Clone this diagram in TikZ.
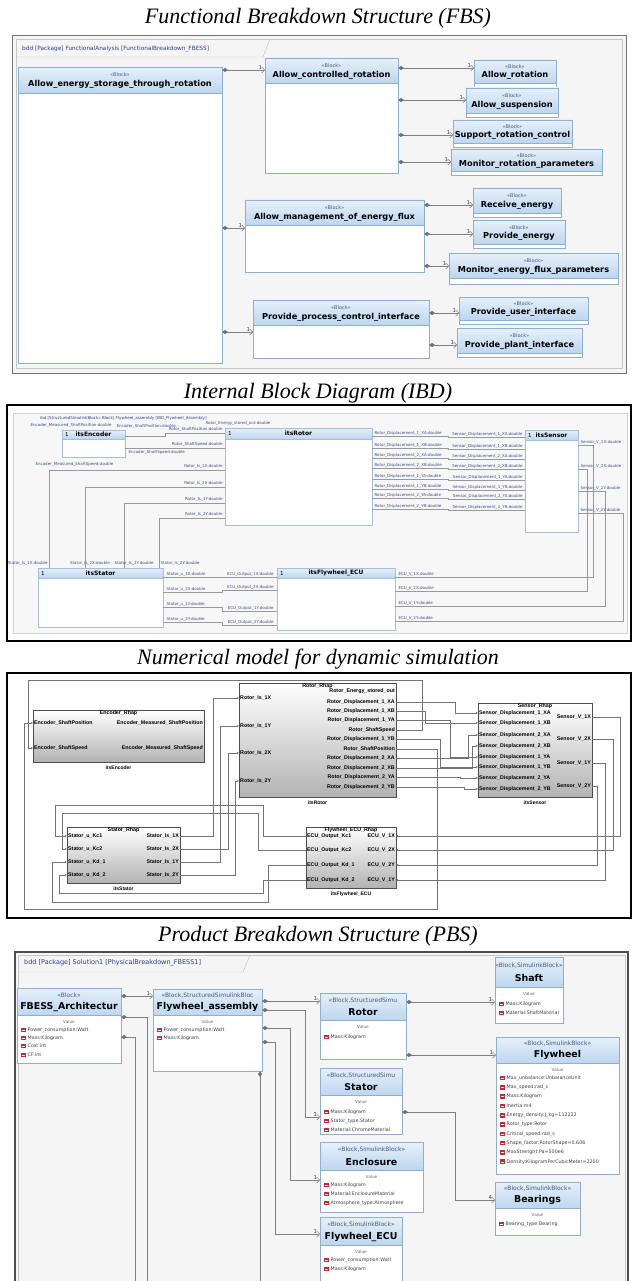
\documentclass[tikz,border=0pt]{standalone}
\usepackage{fontspec}
\setmainfont{Liberation Serif}
\newfontfamily\dv{DejaVu Sans}
\newfontfamily\ls{Liberation Sans}
\usetikzlibrary{arrows.meta,calc}
\definecolor{hdrt}{HTML}{E6F0FA}
\definecolor{hdrbot}{HTML}{BDD6EF}
\definecolor{hdrb}{HTML}{8FAFD2}
\definecolor{frm}{HTML}{F5F5F5}
\definecolor{tabc}{HTML}{2E3F86}
\definecolor{sterc}{HTML}{46587E}
\definecolor{lblc}{HTML}{3C4F8C}
\definecolor{iconred}{HTML}{C8283A}

\newcounter{lb}
\newcommand\mklbl[3][]{\stepcounter{lb}\node[#1] (lb\arabic{lb}) at (#2) {#3};}
\newcommand\mkfbs[7]{%
 \node[bbody, anchor=north west, minimum width=#4pt, minimum height=#5pt] (#1) at (#2,#3) {};
 \node[bhead, anchor=north west, minimum width=#4pt, minimum height=#6pt] (#1h) at (#2,#3) {};
 \node[ster] (#1s) at ($(#1h.north)!0.3!(#1h.south)$) {«Block»};
 \node[bname] (#1n) at ($(#1h.north)!0.68!(#1h.south)$) {#7};}
\newcommand\mkpbs[8]{%
 \node[bbody, anchor=north west, minimum width=#4pt, minimum height=#5pt] (#1) at (#2,#3) {};
 \node[bhead, anchor=north west, minimum width=#4pt, minimum height=#6pt] (#1h) at (#2,#3) {};
 \node[pster] (#1s) at ($(#1h.north)!0.27!(#1h.south)$) {#7};
 \node[pname] (#1n) at ($(#1h.north)!0.7!(#1h.south)$) {#8};
 \node[pval] (#1v) at ($(#1h.south)+(0,7)$) {Value};}
\newcommand\mkibd[7]{%
 \node[ibody, anchor=north west, minimum width=#4pt, minimum height=#5pt] (#1) at (#2,#3) {};
 \node[ihead, anchor=north west, minimum width=#4pt, minimum height=#6pt] (#1h) at (#2,#3) {};
 \node[iname] (#1n) at (#1h.center) {#7};
 \node[imult, anchor=west] (#1m) at ($(#1h.west)+(3,0)$) {1};}
\newcommand\mksim[7]{%
 \node[sblk, anchor=north west, minimum width=#4pt, minimum height=#5pt] (#1) at (#2,#3) {};
 \node[sp] (#1t) at ($(#1.north)+(0,3.5)$) {#6};
 \node[sn] (#1l) at ($(#1.south)+(0,6)$) {#7};}
\newcommand\mkattr[3]{%
 \fill[iconred] (#1,#2-2.3) rectangle (#1+4.5,#2+2.3);
 \draw[white, line width=0.35pt] (#1+0.6,#2) -- (#1+3.9,#2);
 \mklbl[attr]{#1+6.5,#2}{#3}}

\tikzset{
 ttl/.style={font=\fontsize{22}{26}\selectfont\itshape, inner sep=0pt},
 bbody/.style={draw=hdrb, line width=0.5pt, fill=white, inner sep=0pt, outer sep=0pt},
 bhead/.style={draw=hdrb, line width=0.5pt, top color=hdrt, bottom color=hdrbot, inner sep=0pt, outer sep=0pt},
 ster/.style={font=\dv\fontsize{5}{5}\selectfont, text=sterc, inner sep=0pt},
 bname/.style={font=\dv\bfseries\fontsize{8.2}{9}\selectfont, inner sep=0pt},
 pster/.style={font=\dv\fontsize{6}{6}\selectfont, text=sterc, inner sep=0pt},
 pname/.style={font=\dv\bfseries\fontsize{9.4}{10}\selectfont, inner sep=0pt},
 pval/.style={font=\dv\fontsize{4.2}{4.5}\selectfont, text=black!60, inner sep=0pt},
 attr/.style={font=\dv\fontsize{4.8}{5}\selectfont, text=black!75, inner sep=0pt, anchor=west},
 tab/.style={font=\dv\fontsize{5.8}{6}\selectfont, text=tabc, inner sep=0pt},
 ptab/.style={font=\dv\fontsize{6.5}{7}\selectfont, text=tabc, inner sep=0pt},
 comp/.style={draw=black!50, line width=0.6pt, {Diamond[length=6pt,width=4pt,color=black!55]}-{Straight Barb[length=3pt,width=6pt,line width=0.5pt]}},
 compn/.style={draw=black!50, line width=0.6pt, {Diamond[length=6pt,width=4pt,color=black!55]}-},
 mult/.style={font=\dv\fontsize{5.5}{6}\selectfont, text=black!75, inner sep=0pt, pos=1, anchor=south east, xshift=-2.5pt, yshift=0.5pt},
 ibody/.style={draw=hdrb!80, line width=0.4pt, fill=white, inner sep=0pt, outer sep=0pt},
 ihead/.style={draw=hdrb!80, line width=0.4pt, top color=hdrt, bottom color=hdrbot, inner sep=0pt, outer sep=0pt},
 iname/.style={font=\dv\bfseries\fontsize{6}{6}\selectfont, inner sep=0pt},
 imult/.style={font=\dv\fontsize{5.5}{6}\selectfont, inner sep=0pt},
 ihd/.style={font=\dv\fontsize{4}{4.5}\selectfont, text=tabc, inner sep=0pt},
 il/.style={font=\dv\fontsize{4}{4.5}\selectfont, text=lblc, inner sep=0.3pt},
 iw/.style={draw=black!40, line width=0.4pt},
 sblk/.style={draw=black!70, line width=0.6pt, top color=white, bottom color=black!30, inner sep=0pt, outer sep=0pt},
 sp/.style={font=\ls\bfseries\fontsize{5.3}{5.5}\selectfont, inner sep=1pt},
 sn/.style={font=\ls\bfseries\fontsize{5}{5.5}\selectfont, inner sep=0pt},
 sl/.style={draw=black!55, line width=0.45pt, -{Triangle[length=2.2pt,width=2pt]}},
}

\begin{document}
\begin{tikzpicture}[x=1pt,y=-1pt]
\useasboundingbox (0,0) rectangle (637,1281);
\fill[white] (0,0) rectangle (637,1281);
\clip (0,0) rectangle (637,1281);

% ---------------- titles
\node[ttl] (t1) at (318,18) {Functional Breakdown Structure (FBS)};
\node[ttl] (t2) at (318,393) {Internal Block Diagram (IBD)};
\node[ttl] (t3) at (318,659) {Numerical model for dynamic simulation};
\node[ttl] (t4) at (318,936) {Product Breakdown Structure (PBS)};

% ================= FBS
\draw[black!55, line width=0.9pt, fill=frm] (12,35) rectangle (626,373);
\draw[black!22, line width=0.4pt] (16,39) rectangle (622,368);
\draw[black!25, line width=0.4pt] (16,57) -- (263,57) -- (270,39);
\mklbl[tab, anchor=west]{22,48.5}{bdd [Package] FunctionalAnalysis [FunctionalBreakdown\_FBESS]}

\mkfbs{aes}{18}{67}{204}{296}{26}{Allow\_energy\_storage\_through\_rotation}
\mkfbs{acr}{265}{58}{133}{115}{25}{Allow\_controlled\_rotation}
\mkfbs{ar}{474}{60}{82}{27}{23}{Allow\_rotation}
\mkfbs{as}{466}{88}{92}{29}{25}{Allow\_suspension}
\mkfbs{src}{453}{120}{119}{27}{23}{Support\_rotation\_control}
\mkfbs{mrp}{451}{149}{151}{26}{22}{Monitor\_rotation\_parameters}
\mkfbs{amef}{245}{200}{179}{72}{25}{Allow\_management\_of\_energy\_flux}
\mkfbs{re}{473}{188}{88}{29}{25}{Receive\_energy}
\mkfbs{pe}{473}{220}{92}{28}{24}{Provide\_energy}
\mkfbs{mefp}{449}{253}{169}{31}{25}{Monitor\_energy\_flux\_parameters}
\mkfbs{ppci}{253}{300}{176}{58}{25}{Provide\_process\_control\_interface}
\mkfbs{pui}{459}{297}{129}{27}{23}{Provide\_user\_interface}
\mkfbs{ppi}{457}{328}{125}{29}{25}{Provide\_plant\_interface}

\draw[comp] (aes.east |- 0,70) -- (acr.west |- 0,70) node[mult] (fm1) {1};
\draw[comp] (acr.east |- 0,68) -- (ar.west |- 0,68) node[mult] (fm2) {1};
\draw[comp] (acr.east |- 0,100) -- (as.west |- 0,100) node[mult] (fm3) {1};
\draw[comp] (acr.east |- 0,135) -- (src.west |- 0,135) node[mult] (fm4) {1};
\draw[comp] (acr.east |- 0,162) -- (mrp.west |- 0,162) node[mult] (fm5) {1};
\draw[comp] (aes.east |- 0,228) -- (amef.west |- 0,228) node[mult] (fm6) {1};
\draw[comp] (amef.east |- 0,205) -- (re.west |- 0,205) node[mult] (fm7) {1};
\draw[comp] (amef.east |- 0,234) -- (pe.west |- 0,234) node[mult] (fm8) {1};
\draw[comp] (amef.east |- 0,266) -- (mefp.west |- 0,266) node[mult] (fm9) {1};
\draw[comp] (aes.east |- 0,332) -- (ppci.west |- 0,332) node[mult] (fm10) {1};
\draw[comp] (ppci.east |- 0,313) -- (pui.west |- 0,313) node[mult] (fm11) {1};
\draw[comp] (ppci.east |- 0,345) -- (ppi.west |- 0,345) node[mult] (fm12) {1};

% ================= IBD
\draw[line width=1.3pt] (7,405) rectangle (631,641);
\draw[black!18, fill=black!3] (13,413) rectangle (627,633);
\mklbl[ihd, anchor=west]{40,418}{ibd [StructuredSimulinkBlock» Block] Flywheel\_assembly [IBD\_Flywheel\_Assembly]}

\mkibd{enc}{62}{430}{63}{27}{9}{itsEncoder}
\mkibd{rot}{225}{428}{147}{97}{11}{itsRotor}
\mkibd{sen}{525}{430}{53}{102}{10}{itsSensor}
\mkibd{sta}{38}{568}{125}{59}{10}{itsStator}
\mkibd{ecu}{277}{568}{118}{62}{10}{itsFlywheel\_ECU}

\draw[iw] (enc.east |- 0,436) -- (165,436) -- (165,433) -- (rot.west |- 0,433);
\draw[iw] (enc.east |- 0,448) -- (rot.west |- 0,448);
\draw[iw] (sta.north -| 49,0) -- (49,470) -- (rot.west |- 0,470);
\draw[iw] (sta.north -| 85,0) -- (85,487) -- (rot.west |- 0,487);
\draw[iw] (sta.north -| 124,0) -- (124,503) -- (rot.west |- 0,503);
\draw[iw] (sta.north -| 159,0) -- (159,518) -- (rot.west |- 0,518);
\draw[iw] (sta.east |- 0,577) -- (ecu.west |- 0,577);
\draw[iw] (sta.east |- 0,592) -- (222,592) -- (222,590) -- (ecu.west |- 0,590);
\draw[iw] (sta.east |- 0,607) -- (222,607) -- (222,611) -- (ecu.west |- 0,611);
\draw[iw] (sta.east |- 0,622) -- (222,622) -- (222,625) -- (ecu.west |- 0,625);
\draw[iw] (sen.east |- 0,445) -- (593,445) -- (593,577) -- (ecu.east |- 0,577);
\draw[iw] (sen.east |- 0,469) -- (587,469) -- (587,591) -- (ecu.east |- 0,591);
\draw[iw] (sen.east |- 0,491) -- (605,491) -- (605,606) -- (ecu.east |- 0,606);
\draw[iw] (sen.east |- 0,513) -- (623,513) -- (623,621) -- (ecu.east |- 0,621);
\foreach \yy/\nm [count=\i] in {436/1\_XA, 448/1\_XB, 458/2\_XA, 468/2\_XB, 479/1\_YA, 489/1\_YB, 498/2\_YA, 509/2\_YB} {
  \draw[iw] (rot.east |- 0,\yy) -- (448,\yy) -- (448,\yy+1.5) -- (sen.west |- 0,\yy+1.5);
  \node[il, anchor=south west] (rl\i) at (374,\yy-0.3) {Rotor\_Displacement\_\nm:double};
  \node[il, anchor=south east] (sl\i) at (523,\yy+1.2) {Sensor\_Displacement\_\nm:double};
}
\mklbl[il, anchor=south east]{112,428}{Encoder\_Measured\_ShaftPosition:double}
\mklbl[il, anchor=south west]{116,428.5}{Encoder\_ShaftPosition:double}
\mklbl[il, anchor=south west]{205,426}{Rotor\_Energy\_stored\_out:double}
\mklbl[il, anchor=south east]{223,432}{Rotor\_ShaftPosition:double}
\mklbl[il, anchor=south east]{223,447}{Rotor\_ShaftSpeed:double}
\mklbl[il, anchor=north west]{128,450}{Encoder\_ShaftSpeed:double}
\mklbl[il, anchor=south west]{35,467}{Encoder\_Measured\_ShaftSpeed:double}
\foreach \yy/\nm [count=\i] in {470/1X,487/2X,503/1Y,518/2Y}
  \node[il, anchor=south east] (ri\i) at (223,\yy-1) {Rotor\_Is\_\nm:double};
\mklbl[il, anchor=south east]{48,566}{Stator\_Is\_1X:double}
\mklbl[il, anchor=south]{90,566}{Stator\_Is\_2X:double}
\mklbl[il, anchor=south]{134,566}{Stator\_Is\_1Y:double}
\mklbl[il, anchor=south west]{160,566}{Stator\_Is\_2Y:double}
\foreach \yy/\nm [count=\i] in {577/1X,592/2X,607/1Y,622/2Y}
  \node[il, anchor=south west] (su\i) at (166,\yy-0.5) {Stator\_u\_\nm:double};
\foreach \yy/\nm [count=\i] in {577/1X,590/2X,611/1Y,625/2Y}
  \node[il, anchor=south east] (eo\i) at (274,\yy-0.5) {ECU\_Output\_\nm:double};
\foreach \yy/\nm [count=\i] in {577/1X,591/2X,606/1Y,621/2Y}
  \node[il, anchor=south west] (ev\i) at (398,\yy-0.5) {ECU\_V\_\nm:double};
\foreach \yy/\nm [count=\i] in {445/1X,469/2X,491/1Y,513/2Y}
  \node[il, anchor=south west] (sv\i) at (580,\yy-0.5) {Sensor\_V\_\nm:double};

% ================= Numerical model
\draw[line width=1.3pt] (7,673) rectangle (631,918);
\mksim{senc}{33}{710}{171}{52}{Encoder\_Rhap}{itsEncoder}
\mksim{srot}{239}{683}{157}{114}{Rotor\_Rhap}{itsRotor}
\mksim{ssen}{478}{703}{114}{94}{Sensor\_Rhap}{itsSensor}
\mksim{ssta}{67}{827}{113}{56}{Stator\_Rhap}{itsStator}
\mksim{secu}{306}{827}{90}{61}{Flywheel\_ECU\_Rhap}{itsFlywheel\_ECU}

\mklbl[sp, anchor=west]{senc.west |- 0,723}{Encoder\_ShaftPosition}
\mklbl[sp, anchor=west]{senc.west |- 0,748}{Encoder\_ShaftSpeed}
\mklbl[sp, anchor=east]{senc.east |- 0,723}{Encoder\_Measured\_ShaftPosition}
\mklbl[sp, anchor=east]{senc.east |- 0,748}{Encoder\_Measured\_ShaftSpeed}
\foreach \yy/\nm [count=\i] in {698/1X,726/1Y,753/2X,781/2Y}
  \node[sp, anchor=west] (rin\i) at (srot.west |- 0,\yy) {Rotor\_Is\_\nm};
\foreach \yy/\nm [count=\i] in {691/Energy\_stored\_out, 702/Displacement\_1\_XA, 711/Displacement\_1\_XB, 720/Displacement\_1\_YA, 730/ShaftSpeed, 739/Displacement\_1\_YB, 749/ShaftPosition, 758/Displacement\_2\_XA, 768/Displacement\_2\_XB, 777/Displacement\_2\_YA, 787/Displacement\_2\_YB}
  \node[sp, anchor=east] (rout\i) at (srot.east |- 0,\yy) {Rotor\_\nm};
\foreach \yy/\nm [count=\i] in {713/1\_XA,723/1\_XB,735/2\_XA,746/2\_XB,757/1\_YA,767/1\_YB,778/2\_YA,789/2\_YB}
  \node[sp, anchor=west] (sin\i) at (ssen.west |- 0,\yy) {Sensor\_Displacement\_\nm};
\foreach \yy/\nm [count=\i] in {717/1X,739/2X,763/1Y,786/2Y}
  \node[sp, anchor=east] (sout\i) at (ssen.east |- 0,\yy) {Sensor\_V\_\nm};
\foreach \yy/\nm [count=\i] in {836/Kc1,849/Kc2,862/Kd\_1,875/Kd\_2}
  \node[sp, anchor=west] (stin\i) at (ssta.west |- 0,\yy) {Stator\_u\_\nm};
\foreach \yy/\nm [count=\i] in {836/1X,849/2X,862/1Y,875/2Y}
  \node[sp, anchor=east] (stout\i) at (ssta.east |- 0,\yy) {Stator\_Is\_\nm};
\foreach \yy/\nm [count=\i] in {836/Kc1,850/Kc2,865/Kd\_1,880/Kd\_2}
  \node[sp, anchor=west] (ein\i) at (secu.west |- 0,\yy) {ECU\_Output\_\nm};
\foreach \yy/\nm [count=\i] in {836/1X,850/2X,865/2Y,880/1Y}
  \node[sp, anchor=east] (eout\i) at (secu.east |- 0,\yy) {ECU\_V\_\nm};

\draw[sl] (ssta.east |- 0,836) -- (213,836) -- (213,698) -- (srot.west |- 0,698);
\draw[sl] (ssta.east |- 0,849) -- (228,849) -- (228,753) -- (srot.west |- 0,753);
\draw[sl] (ssta.east |- 0,862) -- (220,862) -- (220,726) -- (srot.west |- 0,726);
\draw[sl] (ssta.east |- 0,875) -- (235,875) -- (235,781) -- (srot.west |- 0,781);
\draw[sl] (secu.west |- 0,836) -- (263,836) -- (263,805) -- (55,805) -- (55,836) -- (ssta.west |- 0,836);
\draw[sl] (secu.west |- 0,850) -- (258,850) -- (258,813) -- (62,813) -- (62,849) -- (ssta.west |- 0,849);
\draw[sl] (secu.west |- 0,865) -- (268,865) -- (268,902) -- (52,902) -- (52,862) -- (ssta.west |- 0,862);
\draw[sl] (secu.west |- 0,880) -- (263,880) -- (263,893) -- (59,893) -- (59,875) -- (ssta.west |- 0,875);
\draw[sl] (srot.east |- 0,702) -- (455,702) -- (455,713) -- (ssen.west |- 0,713);
\draw[sl] (srot.east |- 0,711) -- (425,711) -- (425,723) -- (ssen.west |- 0,723);
\draw[sl] (srot.east |- 0,720) -- (450,720) -- (450,757) -- (ssen.west |- 0,757);
\draw[sl] (srot.east |- 0,739) -- (440,739) -- (440,767) -- (ssen.west |- 0,767);
\draw[sl] (srot.east |- 0,758) -- (468,758) -- (468,735) -- (ssen.west |- 0,735);
\draw[sl] (srot.east |- 0,768) -- (472,768) -- (472,746) -- (ssen.west |- 0,746);
\draw[sl] (srot.east |- 0,777) -- (460,777) -- (460,778) -- (ssen.west |- 0,778);
\draw[sl] (srot.east |- 0,787) -- (464,787) -- (464,789) -- (ssen.west |- 0,789);
\draw[sl] (srot.east |- 0,730) -- (422,730) -- (422,680) -- (28,680) -- (28,748) -- (senc.west |- 0,748);
\draw[sl] (srot.east |- 0,749) -- (437,749) -- (437,909) -- (24,909) -- (24,723) -- (senc.west |- 0,723);
\draw[sl] (ssen.east |- 0,717) -- (620,717) -- (620,836) -- (secu.east |- 0,836);
\draw[sl] (ssen.east |- 0,739) -- (613,739) -- (613,850) -- (secu.east |- 0,850);
\draw[sl] (ssen.east |- 0,763) -- (605,763) -- (605,880) -- (secu.east |- 0,880);
\draw[sl] (ssen.east |- 0,786) -- (597,786) -- (597,865) -- (secu.east |- 0,865);

% ================= PBS
\fill[frm] (15,952) rectangle (628,1290);
\draw[black!70, line width=1.1pt] (15,1290) -- (15,952) -- (628,952) -- (628,1290);
\draw[black!22, line width=0.4pt] (18,1290) -- (18,955) -- (625,955) -- (625,1290);
\draw[black!25, line width=0.4pt] (18,972) -- (243,972) -- (250,955);
\mklbl[ptab, anchor=west]{24,963}{bdd [Package] Solution1 [PhysicalBreakdown\_FBESS1]}

\mkpbs{fa}{17}{988}{104}{75}{27}{«Block»}{FBESS\_Architectur}
\mkpbs{fly}{153}{989}{109}{82}{26}{«Block,StructuredSimulinkBloc}{Flywheel\_assembly}
\mkpbs{rotor}{320}{993}{86}{66}{27}{«Block,StructuredSimu}{Rotor}
\mkpbs{shaft}{495}{957}{68}{66}{30}{«Block,SimulinkBlock»}{Shaft}
\mkpbs{flyw}{496}{1037}{123}{137}{26}{«Block,SimulinkBlock»}{Flywheel}
\mkpbs{stator}{320}{1068}{82}{66}{27}{«Block,StructuredSimu}{Stator}
\mkpbs{encl}{320}{1142}{103}{70}{28}{«Block,SimulinkBlock»}{Enclosure}
\mkpbs{bear}{495}{1182}{85}{53}{26}{«Block,SimulinkBlock»}{Bearings}
\mkpbs{fecu}{320}{1217}{82}{70}{28}{«Block,SimulinkBlock»}{Flywheel\_ECU}

\mkattr{21}{1030}{Power\_consumption:Watt}
\mkattr{21}{1038}{Mass:Kilogram}
\mkattr{21}{1046}{Cost:int}
\mkattr{21}{1055}{CF:int}
\mkattr{157}{1030}{Power\_consumption:Watt}
\mkattr{157}{1038}{Mass:Kilogram}
\mkattr{324}{1037}{Mass:Kilogram}
\mkattr{499}{1004}{Mass:Kilogram}
\mkattr{499}{1013}{Material:ShaftMaterial}
\mkattr{500}{1078}{Max\_unbalance:UnbalanceUnit}
\mkattr{500}{1087.3}{Max\_speed:rad\_s}
\mkattr{500}{1096.6}{Mass:Kilogram}
\mkattr{500}{1105.9}{Inertia:m4}
\mkattr{500}{1115.2}{Energy\_density:J\_kg=112222}
\mkattr{500}{1124.5}{Rotor\_type:Rotor}
\mkattr{500}{1133.8}{Critical\_speed:rad\_s}
\mkattr{500}{1143.1}{Shape\_factor:RotorShape=0.606}
\mkattr{500}{1152.4}{MaxStrenght:Pa=500e6}
\mkattr{500}{1161.7}{Density:KilogramPerCubicMeter=2200}
\mkattr{324}{1112}{Mass:Kilogram}
\mkattr{324}{1121}{Stator\_type:Stator}
\mkattr{324}{1130}{Material:ChromeMaterial}
\mkattr{324}{1185}{Mass:Kilogram}
\mkattr{324}{1194}{Material:EnclosureMaterial}
\mkattr{324}{1203}{Atmosphere\_type:Atmosphere}
\mkattr{499}{1224}{Bearing\_type:Bearing}
\mkattr{324}{1260}{Power\_consumption:Watt}
\mkattr{324}{1269}{Mass:Kilogram}

\draw[comp] (fa.east |- 0,996) -- (fly.west |- 0,996) node[mult] (pm1) {1};
\draw[compn] (fa.east |- 0,1017) -- (147,1017) -- (147,1290);
\draw[compn] (fa.east |- 0,1037) -- (135,1037) -- (135,1290);
\draw[comp] (fly.east |- 0,1001) -- (rotor.west |- 0,1001) node[mult] (pm2) {1};
\draw[comp] (fly.east |- 0,1010) -- (305,1010) -- (305,1117) -- (stator.west |- 0,1117) node[mult] (pm3) {1};
\draw[comp] (fly.east |- 0,1028) -- (290,1028) -- (290,1180) -- (encl.west |- 0,1180) node[mult] (pm4) {1};
\draw[comp] (fly.east |- 0,1042) -- (275,1042) -- (275,1234) -- (fecu.west |- 0,1234) node[mult] (pm5) {1};
\draw[compn] (fly.south -| 260,0) -- (260,1290);
\draw[comp] (rotor.east |- 0,1002) -- (shaft.west |- 0,1002) node[mult] (pm6) {1};
\draw[comp] (rotor.east |- 0,1055) -- (flyw.west |- 0,1055) node[mult] (pm7) {1};
\draw[comp] (stator.east |- 0,1112) -- (455,1112) -- (455,1200) -- (bear.west |- 0,1200) node[mult] (pm8) {4};
\end{tikzpicture}
\end{document}
